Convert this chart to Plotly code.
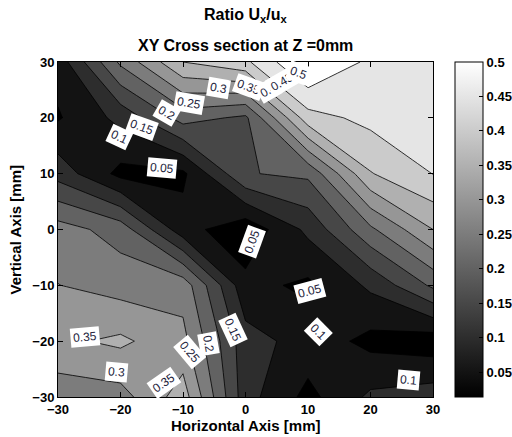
import numpy as np
import plotly.graph_objects as go

# Measurement grid (mm)
xs = [-30, -20, -10, 0, 10, 20, 30]
ys = [30, 20, 10, 0, -10, -20, -30]

# Ratio U_x/u_x, one row per y (top row y=30 first)
ratio_rows = [
    [0.070, 0.260, 0.400, 0.440, 0.560, 0.488, 0.475],
    [0.045, 0.115, 0.220, 0.190, 0.430, 0.465, 0.470],
    [0.130, 0.035, 0.040, 0.197, 0.210, 0.397, 0.451],
    [0.272, 0.229, 0.070, 0.014, 0.112, 0.240, 0.350],
    [0.301, 0.279, 0.280, 0.065, 0.040, 0.110, 0.210],
    [0.340, 0.360, 0.315, 0.120, 0.080, 0.035, 0.020],
    [0.270, 0.280, 0.375, 0.120, 0.035, 0.110, 0.127],
]

# Contour levels
levels = [0.05, 0.10, 0.15, 0.20, 0.25, 0.30, 0.35, 0.40, 0.45, 0.50]
colorbar_ticks = levels

# Inline contour labels: (x, y, level, text angle in degrees, clockwise)
contour_labels = [
    (-20.2, 16.6, 0.10, 25), (-16.6, 18.4, 0.15, 20), (-12.6, 20.8, 0.20, 30),
    (-9.1, 22.6, 0.25, 10), (-4.3, 25.3, 0.30, 10), (0.5, 25.6, 0.35, 20),
    (3.7, 25.0, 0.40, -30), (5.8, 26.5, 0.45, -30), (8.5, 28.0, 0.50, 20),
    (-13.4, 11.0, 0.05, 5), (1.0, -2.2, 0.05, -70), (10.3, -11.1, 0.05, -15),
    (11.7, -18.3, 0.10, 45), (26.0, -27.0, 0.10, 5), (-2.0, -18.0, 0.15, 65),
    (-6.0, -20.4, 0.20, 80), (-8.9, -21.9, 0.25, 50), (-13.1, -27.5, 0.35, -35),
    (-20.6, -25.5, 0.30, 5), (-25.7, -19.2, 0.35, -5),
]

Z = np.array(ratio_rows)
zmin = float(Z.min())
zmax = levels[-1]
step = levels[1] - levels[0]


def gray(v):
    g = int(round(255 * min(max(v, 0.0), 1.0)))
    return f"rgb({g},{g},{g})"


# Each filled band takes the grey of its lower level on a [zmin, zmax] scale;
# the region below the first level is black.
n = len(levels)
fill_scale = [[0.0, gray(0.0)]]
for k, lv in enumerate(levels, start=1):
    fill_scale.append([k / n, gray((lv - zmin) / (zmax - zmin))])

font_family = "Liberation Sans, Arial, sans-serif"

fig = go.Figure()
fig.add_trace(go.Contour(
    x=xs, y=ys, z=Z,
    contours=dict(start=levels[0], end=levels[-1], size=step, coloring="fill"),
    colorscale=fill_scale,
    line=dict(color="black", width=0.8, smoothing=0),
    showscale=False,
    hoverinfo="skip",
))

# Continuous grey colour bar
fig.add_trace(go.Scatter(
    x=[xs[0]], y=[ys[-1]], mode="markers",
    marker=dict(
        size=1, opacity=0, color=[zmin], cmin=zmin, cmax=zmax,
        colorscale=[[0, "black"], [1, "white"]], showscale=True,
        colorbar=dict(
            x=1.0587, xanchor="left", xpad=0, y=0, yanchor="bottom",
            len=1.0, lenmode="fraction", ypad=0,
            thickness=28, thicknessmode="pixels",
            outlinecolor="black", outlinewidth=1,
            tickvals=colorbar_ticks, ticktext=[f"{t:g}" for t in colorbar_ticks],
            ticks="inside", ticklen=4, tickcolor="black",
            tickfont=dict(family=font_family, size=13, color="black", weight="bold"),
        ),
    ),
    showlegend=False, hoverinfo="skip",
))

for lx, ly, lv, ang in contour_labels:
    fig.add_annotation(
        x=lx, y=ly, xref="x", yref="y", text=f"{lv:g}", showarrow=False,
        textangle=ang, bgcolor="white", borderpad=2,
        font=dict(family=font_family, size=12, color="#1e1e3c"),
    )

title_font = dict(family=font_family, size=16, color="black", weight="bold")
label_font = dict(family=font_family, size=15, color="black", weight="bold")
fig.add_annotation(
    x=0.5, y=(397 - 16) / 335, xref="paper", yref="paper",
    text="Ratio U<sub>x</sub>/u<sub>x</sub>", showarrow=False,
    font=title_font, yanchor="middle",
)
fig.add_annotation(
    x=0.5, y=(397 - 45) / 335, xref="paper", yref="paper",
    text="XY Cross section at Z =0mm", showarrow=False,
    font=title_font, yanchor="middle",
)
fig.add_annotation(
    x=0.5, y=(397 - 425) / 335, xref="paper", yref="paper",
    text="Horizontal Axis [mm]", showarrow=False,
    font=label_font, yanchor="middle",
)
fig.add_annotation(
    x=(15 - 58) / 375, y=0.5, xref="paper", yref="paper",
    text="Vertical Axis [mm]", showarrow=False, textangle=-90,
    font=label_font, xanchor="center", yanchor="middle",
)

axis_style = dict(
    range=[-30, 30], tickvals=[-30, -20, -10, 0, 10, 20, 30],
    ticks="inside", ticklen=5, tickcolor="black", mirror="allticks",
    showline=True, linecolor="black", linewidth=1, showgrid=False, zeroline=False,
    tickfont=dict(family=font_family, size=13, color="black", weight="bold"),
)
fig.update_xaxes(**axis_style)
fig.update_yaxes(**axis_style)

fig.update_layout(
    width=512, height=437,
    margin=dict(l=58, r=79, t=62, b=40, autoexpand=False),
    paper_bgcolor="white", plot_bgcolor="white",
    showlegend=False,
)

fig.write_html("out.html")
